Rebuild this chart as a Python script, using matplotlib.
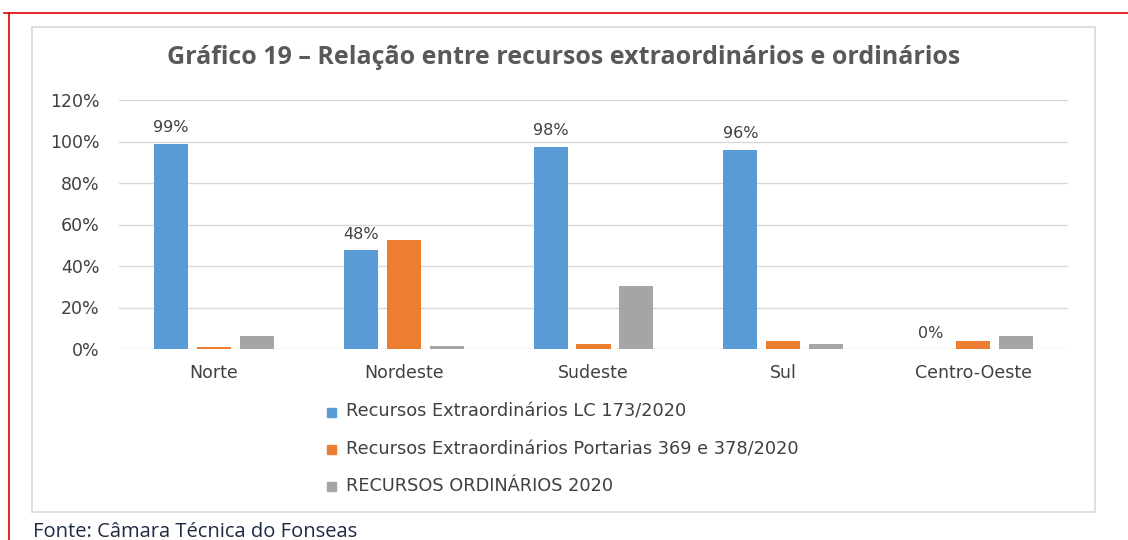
import matplotlib.pyplot as plt
from matplotlib.patches import Rectangle
from matplotlib.lines import Line2D
import numpy as np

# Chart data
regioes = ['Norte', 'Nordeste', 'Sudeste', 'Sul', 'Centro-Oeste']
lc_173 = [0.99, 0.475, 0.975, 0.96, 0.0]
portarias = [0.01, 0.525, 0.025, 0.04, 0.04]
ordinarios = [0.065, 0.015, 0.305, 0.025, 0.065]
rotulos_lc = ['99%', '48%', '98%', '96%', '0%']
series_names = ['Recursos Extraordinários LC 173/2020',
                'Recursos Extraordinários Portarias 369 e 378/2020',
                'RECURSOS ORDINÁRIOS 2020']
cores = ['#5b9bd5', '#ed7d31', '#a5a5a5']

W, H = 1128, 540
fig = plt.figure(figsize=(W / 100, H / 100), dpi=100)
plt.rcParams['font.family'] = ['DejaVu Sans']

# page decorations: red border and chart frame
fig.add_artist(Line2D([4 / W, 1], [1 - 13 / H, 1 - 13 / H], color='#e00000', lw=1.2))
fig.add_artist(Line2D([9 / W, 9 / W], [0, 1 - 13 / H], color='#e00000', lw=1.2))
fig.add_artist(Rectangle((32 / W, 1 - 512 / H), (1095 - 32) / W, (512 - 27) / H,
                         transform=fig.transFigure, fill=False,
                         edgecolor='#d9d9d9', lw=1.2))

ax = fig.add_axes([119 / W, 1 - 349 / H, (1068 - 119) / W, (349 - 100) / H])
x = np.arange(len(regioes))
bw = 0.18
step = 0.226
for i, (vals, c) in enumerate(zip([lc_173, portarias, ordinarios], cores)):
    ax.bar(x + (i - 1) * step, vals, width=bw, color=c, zorder=3)

for xi, v, lab in zip(x, lc_173, rotulos_lc):
    ax.text(xi - step, v + 0.04, lab, ha='center', va='bottom',
            fontsize=11.5, color='#404040')

ax.set_xlim(-0.5, len(regioes) - 0.5)
ax.set_ylim(0, 1.2)
ax.set_yticks(np.arange(0, 1.21, 0.2))
ax.set_yticklabels([f'{int(round(t * 100))}%' for t in np.arange(0, 1.21, 0.2)])
ax.set_xticks(x)
ax.set_xticklabels(regioes)
ax.tick_params(axis='both', length=0, labelsize=12.5, labelcolor='#404040')
ax.tick_params(axis='y', pad=14)
ax.tick_params(axis='x', pad=11)
ax.grid(axis='y', color='#d9d9d9', lw=1, zorder=0)
for s in ax.spines.values():
    s.set_visible(False)

fig.text(564 / W, 1 - 58 / H,
         'Gráfico 19 – Relação entre recursos extraordinários e ordinários',
         ha='center', va='center', fontsize=18, fontweight='bold',
         color='#595959', family=['Open Sans', 'DejaVu Sans'])

# legend drawn manually in figure coords
for k, (name, c) in enumerate(zip(series_names, cores)):
    yk = 1 - (412 + 37 * k) / H
    fig.add_artist(Rectangle((327 / W, yk - 4.5 / H), 9 / W, 9 / H,
                             transform=fig.transFigure, color=c))
    fig.text(346 / W, yk, name, ha='left', va='center', fontsize=12.8,
             color='#404040')

fig.text(33 / W, 1 - 537 / H, 'Fonte: Câmara Técnica do Fonseas', ha='left',
         va='baseline', fontsize=14.5, color='#1f2a44',
         family=['Open Sans', 'DejaVu Sans'])

fig.savefig('out.png', dpi=100)
